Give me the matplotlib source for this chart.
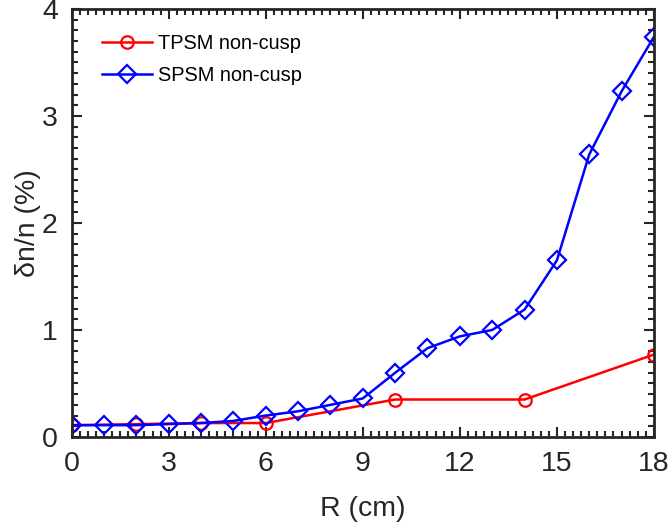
import matplotlib.pyplot as plt
from matplotlib.ticker import MultipleLocator

plt.rcParams['font.family'] = ['Liberation Sans', 'DejaVu Sans']

# data
r_tpsm = [0, 2, 4, 6, 10, 14, 18]
dn_tpsm = [0.11, 0.12, 0.13, 0.13, 0.35, 0.35, 0.77]

r_spsm = [0, 1, 2, 3, 4, 5, 6, 7, 8, 9, 10, 11, 12, 13, 14, 15, 16, 17, 18]
dn_spsm = [0.11, 0.11, 0.11, 0.12, 0.13, 0.15, 0.20, 0.24, 0.30, 0.36, 0.60,
           0.83, 0.94, 1.00, 1.19, 1.65, 2.64, 3.23, 3.74]

fig = plt.figure(figsize=(6.7, 5.29), dpi=100)
ax = fig.add_axes([0.107, 0.174, 0.869, 0.809])

ax.plot(r_tpsm, dn_tpsm, color='red', linewidth=1.8, marker='o',
        markerfacecolor='none', markeredgewidth=1.6, markersize=9,
        label='TPSM non-cusp')
ax.plot(r_spsm, dn_spsm, color='blue', linewidth=1.8, marker='D',
        markerfacecolor='none', markeredgewidth=1.6, markersize=9.5,
        label='SPSM non-cusp')

ax.set_xlim(0, 18)
ax.set_ylim(0, 4)
ax.xaxis.set_major_locator(MultipleLocator(3))
ax.xaxis.set_minor_locator(MultipleLocator(0.25))
ax.yaxis.set_major_locator(MultipleLocator(1))
ax.yaxis.set_minor_locator(MultipleLocator(0.1))

ax.tick_params(which='both', direction='in', top=True, right=True,
               colors='#262626', width=1.5)
ax.tick_params(which='major', length=7, labelsize=20.5)
ax.tick_params(axis='x', which='major', pad=10)
ax.tick_params(axis='y', which='major', pad=10)
ax.tick_params(which='minor', length=4)
for s in ax.spines.values():
    s.set_linewidth(2)
    s.set_color('#262626')

ax.set_xlabel('R (cm)', fontsize=20.5, color='#262626', labelpad=14)
ax.set_ylabel('δn/n (%)', fontsize=20.5, color='#262626', labelpad=1)

ax.legend(loc='upper left', bbox_to_anchor=(0.038, 0.961), borderaxespad=0,
          frameon=False, fontsize=14.4, handlelength=2.5, handletextpad=0.3,
          labelspacing=0.67)

fig.savefig('out.png', dpi=100)
